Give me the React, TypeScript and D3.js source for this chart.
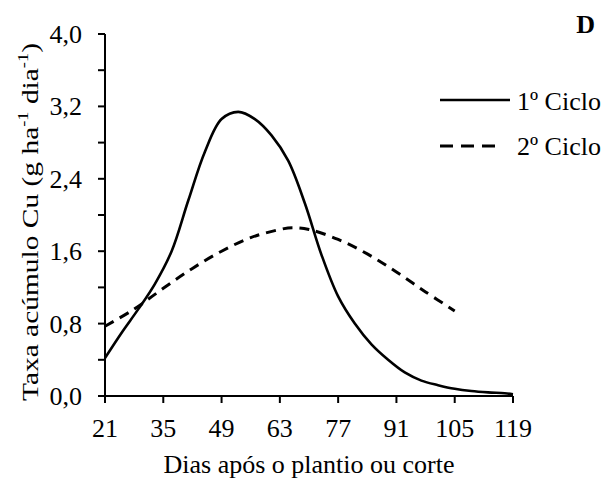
import React from "react";
import * as d3 from "d3";

const cycle1Days = [21, 25, 29, 33, 37, 41, 45, 49, 53, 57, 61, 65, 69, 73, 77, 81, 85, 89, 93, 97, 101, 105, 109, 113, 117, 119];
const cycle1Vals = [0.42, 0.7, 0.96, 1.24, 1.6, 2.16, 2.7, 3.06, 3.14, 3.06, 2.88, 2.6, 2.13, 1.56, 1.1, 0.8, 0.57, 0.4, 0.26, 0.17, 0.12, 0.08, 0.055, 0.04, 0.03, 0.02];
const cycle2Days = [21, 28, 35, 42, 49, 56, 63, 66, 70, 77, 84, 91, 98, 105];
const cycle2Vals = [0.77, 0.96, 1.19, 1.41, 1.6, 1.75, 1.84, 1.86, 1.84, 1.73, 1.57, 1.37, 1.15, 0.94];
const xTicks = [21, 35, 49, 63, 77, 91, 105, 119];
const yTicks = [0, 0.4, 0.8, 1.2, 1.6, 2.0, 2.4, 2.8, 3.2, 3.6, 4.0];
const yLabels = [0, 0.8, 1.6, 2.4, 3.2, 4.0];
const seriesNames = ["1º Ciclo", "2º Ciclo"];

const W = 614, H = 481;
const font = "Liberation Serif";

export default function App() {
  const x = d3.scaleLinear().domain([21, 119]).range([105, 513]);
  const y = d3.scaleLinear().domain([0, 4]).range([396, 34]);
  const line = d3.line<[number, number]>().x(d => x(d[0])).y(d => y(d[1])).curve(d3.curveCatmullRom.alpha(0.5));
  const d1 = line(cycle1Days.map((d, i) => [d, cycle1Vals[i]]));
  const d2 = line(cycle2Days.map((d, i) => [d, cycle2Vals[i]]));
  const fmt = (v: number) => v.toFixed(1).replace(".", ",");
  const ts = { fontFamily: font, fontSize: 26 } as React.CSSProperties;
  return (
    <div style={{ position: "absolute", left: 0, top: 0 }}>
      <svg width={W} height={H} style={{ display: "block", background: "#fff", fontFamily: font }}>
        <path d={d2 || ""} fill="none" stroke="#000" strokeWidth={3} strokeDasharray="10 7" />
        <path d={d1 || ""} fill="none" stroke="#000" strokeWidth={2.6} />
        <line x1={105} x2={105} y1={y(4)} y2={403} stroke="#000" strokeWidth={2} />
        <line x1={98} x2={x(119)} y1={396} y2={396} stroke="#000" strokeWidth={2} />
        {yTicks.map(t => (
          <line key={"yt" + t} x1={98} x2={105} y1={y(t)} y2={y(t)} stroke="#000" strokeWidth={2} />
        ))}
        {yLabels.map(t => (
          <text key={"yl" + t} x={82} y={y(t) + 9} textAnchor="end" style={ts}>{fmt(t)}</text>
        ))}
        {xTicks.map(t => (
          <g key={"xt" + t}>
            <line x1={x(t)} x2={x(t)} y1={396} y2={403} stroke="#000" strokeWidth={2} />
            <text x={x(t)} y={437} textAnchor="middle" style={ts}>{t}</text>
          </g>
        ))}
        <text x={309} y={473} textAnchor="middle" style={ts}>Dias após o plantio ou corte</text>
        <text transform="translate(38,222) rotate(-90)" textAnchor="middle" textLength={358} lengthAdjust="spacingAndGlyphs" style={{ ...ts, fontSize: 24 }}>
          Taxa acúmulo Cu (g ha<tspan dy={-10} style={{ fontSize: 15 }}>-1</tspan><tspan dy={10}> dia</tspan><tspan dy={-10} style={{ fontSize: 15 }}>-1</tspan><tspan dy={10}>)</tspan>
        </text>
        <text x={595} y={33} textAnchor="end" style={{ ...ts, fontWeight: "bold" }}>D</text>
        <line x1={440} x2={510} y1={100} y2={100} stroke="#000" strokeWidth={2.6} />
        <text x={517} y={110} style={ts}>{seriesNames[0]}</text>
        <line x1={440} x2={500} y1={146} y2={146} stroke="#000" strokeWidth={3} strokeDasharray="13 8" />
        <text x={517} y={155} style={ts}>{seriesNames[1]}</text>
      </svg>
    </div>
  );
}
